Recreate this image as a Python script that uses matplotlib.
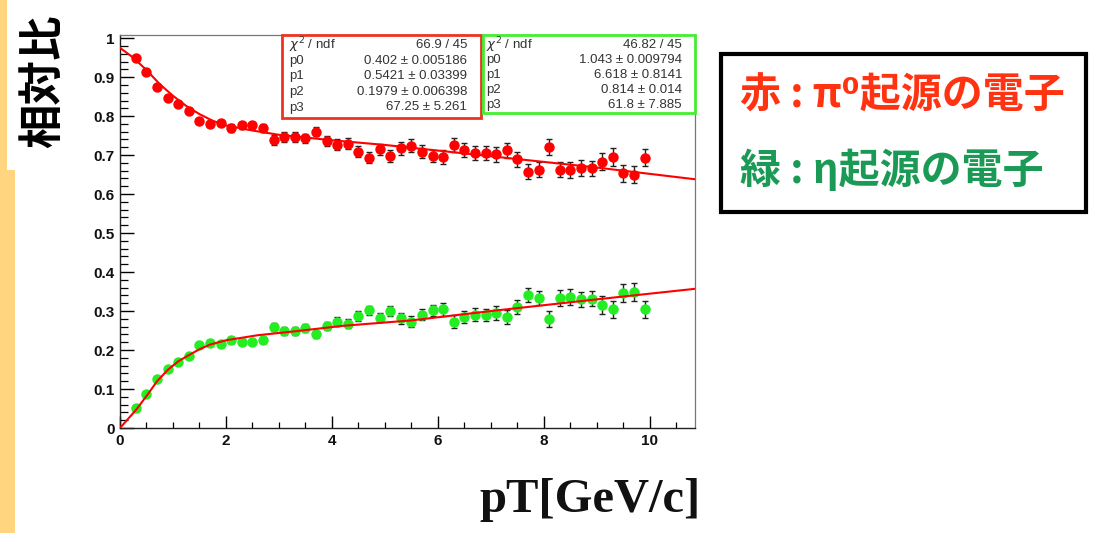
import matplotlib
matplotlib.use("Agg")
import matplotlib.pyplot as plt
from matplotlib.patches import Rectangle

# ---------------- data ----------------
pt = [0.3, 0.5, 0.7, 0.9, 1.1, 1.3, 1.5, 1.7, 1.9, 2.1, 2.3, 2.5, 2.7, 2.9, 3.1, 3.3,
      3.5, 3.7, 3.9, 4.1, 4.3, 4.5, 4.7, 4.9, 5.1, 5.3, 5.5, 5.7, 5.9, 6.1, 6.3, 6.5,
      6.7, 6.9, 7.1, 7.3, 7.5, 7.7, 7.9, 8.1, 8.3, 8.5, 8.7, 8.9, 9.1, 9.3, 9.5, 9.7, 9.9]

red_y = [0.950, 0.914, 0.874, 0.847, 0.830, 0.813, 0.787, 0.779, 0.783, 0.770, 0.776,
         0.776, 0.770, 0.739, 0.746, 0.746, 0.743, 0.760, 0.736, 0.726, 0.729, 0.709,
         0.693, 0.715, 0.697, 0.717, 0.724, 0.709, 0.697, 0.695, 0.725, 0.713, 0.706,
         0.706, 0.702, 0.712, 0.689, 0.657, 0.662, 0.721, 0.663, 0.662, 0.667, 0.666,
         0.683, 0.695, 0.653, 0.650, 0.693]
red_err = [0.005, 0.005, 0.005, 0.005, 0.005, 0.005, 0.008, 0.008, 0.008, 0.010, 0.010,
           0.010, 0.010, 0.012, 0.012, 0.012, 0.012, 0.012, 0.012, 0.014, 0.014, 0.014,
           0.014, 0.014, 0.016, 0.016, 0.016, 0.016, 0.016, 0.018, 0.018, 0.018, 0.018,
           0.018, 0.019, 0.019, 0.019, 0.019, 0.019, 0.020, 0.020, 0.020, 0.020, 0.020,
           0.022, 0.022, 0.022, 0.022, 0.022]

green_y = [0.052, 0.086, 0.125, 0.152, 0.170, 0.185, 0.212, 0.219, 0.215, 0.226, 0.221,
           0.221, 0.226, 0.259, 0.249, 0.249, 0.256, 0.240, 0.262, 0.273, 0.268, 0.287,
           0.302, 0.283, 0.300, 0.281, 0.272, 0.290, 0.302, 0.304, 0.273, 0.285, 0.291,
           0.290, 0.296, 0.285, 0.310, 0.341, 0.334, 0.279, 0.334, 0.336, 0.330, 0.332,
           0.315, 0.304, 0.347, 0.350, 0.304]
green_err = [0.004, 0.004, 0.004, 0.004, 0.004, 0.004, 0.006, 0.006, 0.006, 0.008, 0.008,
             0.008, 0.008, 0.010, 0.010, 0.010, 0.010, 0.010, 0.010, 0.012, 0.012, 0.012,
             0.012, 0.012, 0.014, 0.014, 0.014, 0.014, 0.014, 0.016, 0.016, 0.016, 0.016,
             0.016, 0.018, 0.018, 0.018, 0.018, 0.018, 0.020, 0.020, 0.020, 0.020, 0.020,
             0.023, 0.023, 0.023, 0.023, 0.023]

# fit curves
red_fit_x = [0.0, 0.25, 0.5, 0.75, 1.0, 1.25, 1.5, 1.75, 2.0, 2.5, 3.0, 4.0, 5.0, 7.0, 9.0, 10.85]
red_fit_y = [0.975, 0.950, 0.918, 0.882, 0.852, 0.826, 0.805, 0.788, 0.776, 0.763, 0.752,
             0.738, 0.726, 0.697, 0.668, 0.638]
green_fit_x = [0.0, 0.3, 0.5, 0.7, 0.9, 1.1, 1.3, 1.5, 1.7, 2.0, 2.6, 3.3, 4.2, 5.5, 7.0, 9.0, 10.85]
green_fit_y = [0.0, 0.046, 0.082, 0.120, 0.149, 0.171, 0.187, 0.202, 0.214, 0.225, 0.238,
               0.248, 0.262, 0.276, 0.300, 0.330, 0.357]

red_stats_labels = [r"$\chi^{2}$ / ndf", "p0", "p1", "p2", "p3"]
red_stats_values = ["66.9 / 45", "0.402 ± 0.005186", "0.5421 ± 0.03399",
                    "0.1979 ± 0.006398", "67.25 ± 5.261"]
green_stats_labels = [r"$\chi^{2}$ / ndf", "p0", "p1", "p2", "p3"]
green_stats_values = ["46.82 / 45", "1.043 ± 0.009794", "6.618 ± 0.8141",
                      "0.814 ± 0.014", "61.8 ± 7.885"]

y_ticks = [0, 0.1, 0.2, 0.3, 0.4, 0.5, 0.6, 0.7, 0.8, 0.9, 1]
y_tick_labels = ["0", "0.1", "0.2", "0.3", "0.4", "0.5", "0.6", "0.7", "0.8", "0.9", "1"]
x_ticks = [0, 2, 4, 6, 8, 10]
x_tick_labels = ["0", "2", "4", "6", "8", "10"]

# ---------------- figure ----------------
W, H = 1095, 533
fig = plt.figure(figsize=(W / 100, H / 100), dpi=100)
fig.patch.set_facecolor("white")


def fx(px):
    return px / W


def fy(py):
    return 1 - py / H


CJK = ["Noto Sans CJK JP", "DejaVu Sans"]

# left decorative strip
fig.patches.append(Rectangle((0, fy(170)), fx(7), 170 / H, transform=fig.transFigure,
                             facecolor="#FFD57F", edgecolor="none", zorder=0))
fig.patches.append(Rectangle((0, 0), fx(15), fy(170), transform=fig.transFigure,
                             facecolor="#FFD57F", edgecolor="none", zorder=0))

ax = fig.add_axes([fx(120), fy(428), fx(695) - fx(120), fy(35) - fy(428)])
ax.set_xlim(0, 10.85)
ax.set_ylim(0, 1.008)

ax.errorbar(pt, red_y, yerr=red_err, fmt="o", color="#FF0000", ms=6.5, mec="#FF0000",
            ecolor="#222222", elinewidth=1.0, capsize=2, capthick=1.0, zorder=3)
ax.errorbar(pt, green_y, yerr=green_err, fmt="o", color="#22EE22", ms=6.5, mec="#22EE22",
            ecolor="#222222", elinewidth=1.0, capsize=2, capthick=1.0, zorder=3)
ax.plot(red_fit_x, red_fit_y, color="#FF0000", lw=1.5, zorder=4, solid_capstyle="round")
ax.plot(green_fit_x, green_fit_y, color="#FF0000", lw=1.5, zorder=4, solid_capstyle="round")

ax.set_yticks(y_ticks)
ax.set_yticklabels(y_tick_labels)
ax.set_xticks(x_ticks)
ax.set_xticklabels(x_tick_labels)
ax.set_yticks([i * 0.02 for i in range(51)], minor=True)
ax.set_xticks([i * 0.5 for i in range(22)], minor=True)
ax.tick_params(axis="y", which="major", direction="in", length=10, width=1.0, pad=4)
ax.tick_params(axis="y", which="minor", direction="in", length=6, width=0.9)
ax.tick_params(axis="x", which="major", direction="in", length=8.5, width=1.0, pad=4)
ax.tick_params(axis="x", which="minor", direction="in", length=4.5, width=0.9)
for lab in ax.get_xticklabels() + ax.get_yticklabels():
    lab.set_fontfamily("Liberation Sans")
    lab.set_fontweight("bold")
    lab.set_fontsize(11)
    lab.set_color("#111111")

for s in ("left", "bottom"):
    ax.spines[s].set_color("#222222")
    ax.spines[s].set_linewidth(1.0)
for s in ("top", "right"):
    ax.spines[s].set_color("#777777")
    ax.spines[s].set_linewidth(0.9)

# stat boxes
def stat_box(x0, y0, x1, y1, color, labels, values, lab_x, val_x, rows):
    fig.patches.append(Rectangle((fx(x0), fy(y1)), fx(x1) - fx(x0), fy(y0) - fy(y1),
                                 transform=fig.transFigure, facecolor="white",
                                 edgecolor=color, lw=2.0, zorder=5))
    for lab, val, r in zip(labels, values, rows):
        fig.text(fx(lab_x), fy(r), lab, ha="left", va="center", fontsize=9.5,
                 family="Liberation Sans", color="#333333", zorder=6)
        fig.text(fx(val_x), fy(r), val, ha="right", va="center", fontsize=9.5,
                 family="Liberation Sans", color="#333333", zorder=6)


stat_box(282, 35, 481, 118, "#EE3322", red_stats_labels, red_stats_values,
         289, 467, [45, 60.7, 76, 91.7, 107.5])
stat_box(483, 35, 695, 112.5, "#44EE33", green_stats_labels, green_stats_values,
         486, 682, [45, 60, 75, 90, 105])

# axis titles
fig.text(fx(43), fy(81), "相対比", rotation=90, ha="center", va="center", fontsize=32,
         fontweight="bold", family=CJK, color="black")
fig.text(fx(590), fy(500), "pT[GeV/c]", ha="center", va="center", fontsize=35,
         fontweight="bold", family="Liberation Serif", color="#111111")

# legend box
fig.patches.append(Rectangle((fx(721), fy(212)), fx(1086) - fx(721), fy(54) - fy(212),
                             transform=fig.transFigure, facecolor="white",
                             edgecolor="black", lw=3.0, zorder=5))
fig.text(fx(740), fy(96), "赤 : π⁰起源の電子", ha="left", va="center", fontsize=29.5,
         fontweight="bold", family=CJK, color="#FF3311", zorder=6)
fig.text(fx(740), fy(171), "緑 : η起源の電子", ha="left", va="center", fontsize=29.5,
         fontweight="bold", family=CJK, color="#1A9A55", zorder=6)

fig.savefig("out.png", dpi=100)
